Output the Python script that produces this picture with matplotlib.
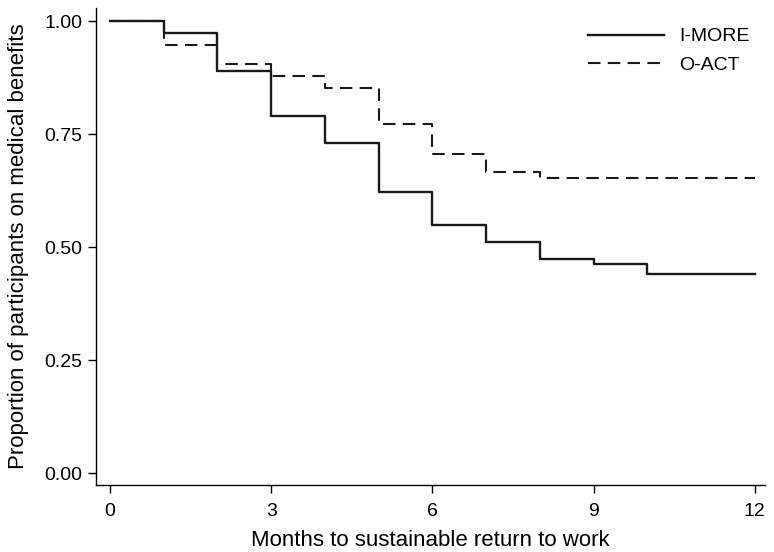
import matplotlib
matplotlib.use("Agg")
import matplotlib.pyplot as plt

months = [0, 1, 2, 3, 4, 5, 6, 7, 8, 9, 10, 11, 12]
imore = [1.000, 0.974, 0.889, 0.791, 0.731, 0.621, 0.548, 0.511, 0.474, 0.462, 0.440, 0.440, 0.440]
oact = [1.000, 0.947, 0.906, 0.879, 0.852, 0.772, 0.707, 0.667, 0.652, 0.652, 0.652, 0.652, 0.652]
xticks = [0, 3, 6, 9, 12]
yticks = [0.00, 0.25, 0.50, 0.75, 1.00]

plt.rcParams['font.family'] = ['Liberation Sans', 'DejaVu Sans']

fig = plt.figure(figsize=(7.74, 5.52), dpi=100)
ax = fig.add_axes([96/774, 1 - 485/552, (765-96)/774, (485-8)/552])

ax.step(months, imore, where='post', color='#1a1a1a', lw=1.7, label='I-MORE')
ax.step(months, oact, where='post', color='#1a1a1a', lw=1.5, ls=(0, (6, 3.5)), label='O-ACT')

ax.set_xlim(-0.26, 12.19)
ax.set_ylim(-0.0265, 1.029)
ax.set_xticks(xticks)
ax.set_xticklabels([str(t) for t in xticks])
ax.set_yticks(yticks)
ax.set_yticklabels([f"{t:.2f}" for t in yticks])
ax.tick_params(direction='out', length=6, width=1, labelsize=14, colors='black')
ax.tick_params(axis='x', pad=7)
ax.tick_params(axis='y', pad=4)
for s in ['top', 'right']:
    ax.spines[s].set_visible(False)
for s in ['left', 'bottom']:
    ax.spines[s].set_linewidth(1)

ax.set_xlabel('Months to sustainable return to work', fontsize=16, labelpad=7)
ax.set_ylabel('Proportion of participants on medical benefits', fontsize=16, labelpad=11)

leg = ax.legend(loc='upper right', frameon=False, fontsize=14, handlelength=3.9,
                handletextpad=0.8, labelspacing=0.55, borderaxespad=0,
                bbox_to_anchor=(0.989, 0.975))

fig.savefig('out.png', dpi=100)
